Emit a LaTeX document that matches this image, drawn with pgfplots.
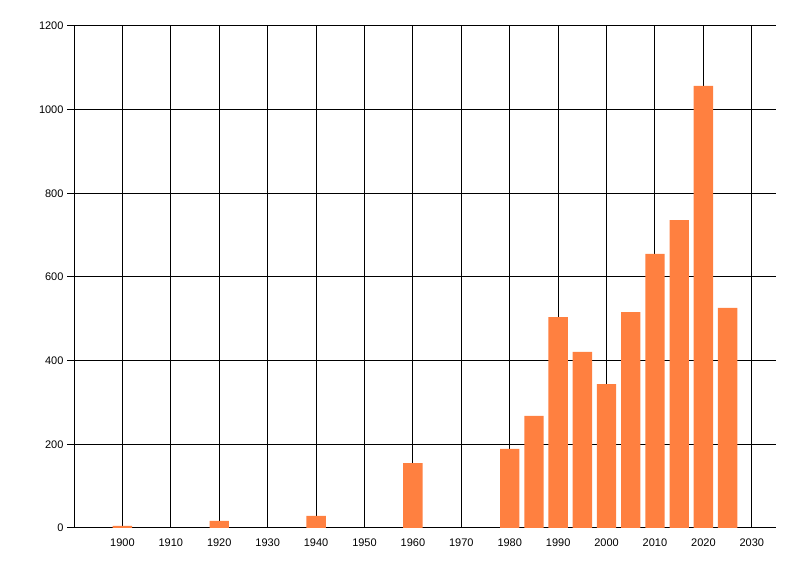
\documentclass[border=0pt]{standalone}
\usepackage{pgfplots}
\pgfplotsset{compat=1.18}
\usepackage{fontspec}
\setmainfont{Liberation Sans}
\definecolor{barc}{RGB}{255,128,64}
\begin{document}
\begin{tikzpicture}[x=1bp,y=1bp]
\useasboundingbox (0,0) rectangle (800,576);
\begin{axis}[
  at={(74bp,48bp)}, anchor=south west,
  width=702bp, height=502bp, scale only axis,
  xmin=1890, xmax=2035, ymin=0, ymax=1200,
  xtick={1900,1910,...,2030}, ytick={0,200,...,1200},
  axis x line*=bottom, axis y line*=left,
  axis line style={-, black, line width=1bp},
  grid=major, major grid style={black, line width=1bp},
  xtick style={draw=none},
  ytick style={black, line width=1bp},
  tick align=outside, major tick length=7bp,
  /pgf/number format/1000 sep={},
  /pgf/number format/assume math mode=true,
  tick label style={font=\fontsize{11bp}{13bp}\selectfont, black},
  ybar, bar width=4, bar shift=0pt,
]
\addplot[fill=barc, draw=none] coordinates {
(1900,5) (1920,17) (1940,29) (1960,155) (1980,189) (1985,268)
(1990,504) (1995,421) (2000,344) (2005,516) (2010,655) (2015,736)
(2020,1057) (2025,526)
};
\end{axis}
\end{tikzpicture}
\end{document}
